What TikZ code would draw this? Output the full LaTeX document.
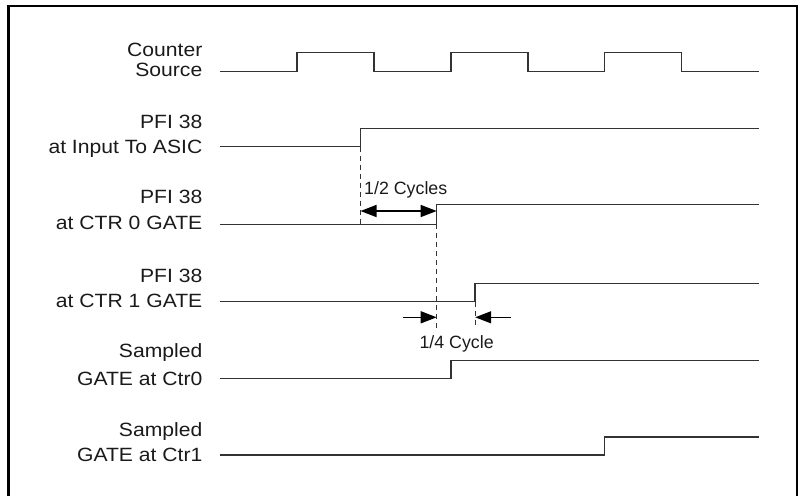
\documentclass[tikz,border=0pt]{standalone}
\usepackage{fontspec}
\setmainfont{Liberation Sans}
\newfontfamily\labfont{Liberation Sans}[FakeStretch=1.1]
\usetikzlibrary{arrows.meta}
\definecolor{sigcol}{HTML}{333333}
\definecolor{txtcol}{HTML}{1A1A1A}
\begin{document}
\begin{tikzpicture}[x=1pt,y=-1pt,
  sig/.style={line width=1.5pt, draw=sigcol, line join=miter},
  lab/.style={anchor=base east, inner sep=0pt, font=\labfont\fontsize{19.2}{20}\selectfont, text=txtcol},
  ann/.style={anchor=base west, inner sep=0pt, font=\fontsize{17.8}{20}\selectfont, text=txtcol},
  guide/.style={line width=1.1pt, dash pattern=on 5pt off 4pt, draw=sigcol},
  dimarrow/.style={line width=1.4pt, draw=black, arrows={-Triangle[length=16pt,width=12pt]}},
  dimboth/.style={line width=1.4pt, draw=black, arrows={Triangle[length=16pt,width=12pt]-Triangle[length=16pt,width=12pt]}}]
\useasboundingbox (0,0) rectangle (800,495);
% frame (bottom edge lies beyond the picture)
\draw[line width=2.6pt] (8.5,515) -- (8.5,6) -- (797,6) -- (797,515);

% labels
\node[lab] (cs1) at (202.5,56.7) {Counter};
\node[lab] (cs2) at (202.5,76.7) {Source};
\node[lab] (in1) at (202.5,128.3) {PFI 38};
\node[lab] (in2) at (202.5,153.3) {at Input To ASIC};
\node[lab] (g01) at (202.5,203.8) {PFI 38};
\node[lab] (g02) at (202.5,229.5) {at CTR 0 GATE};
\node[lab] (g11) at (202.5,282.3) {PFI 38};
\node[lab] (g12) at (202.5,307.3) {at CTR 1 GATE};
\node[lab] (s01) at (202.5,357.8) {Sampled};
\node[lab] (s02) at (202.5,385.0) {GATE at Ctr0};
\node[lab] (s11) at (202.5,436.7) {Sampled};
\node[lab] (s12) at (202.5,461.7) {GATE at Ctr1};

% key edges
\coordinate (inrise) at (360.5,146.5);
\coordinate (inrisetop) at (360.5,128.5);
\coordinate (g0rise) at (436.7,224.3);
\coordinate (g0risetop) at (436.7,204.7);
\coordinate (g1rise) at (475.2,301.5);
\coordinate (g1risetop) at (475.2,283.7);

% waveforms
\draw[sig] (219.5,71.5) -- (297,71.5) -- (297,52.5) -- (374,52.5) -- (374,71.5)
  -- (451,71.5) -- (451,52.5) -- (528,52.5) -- (528,71.5)
  -- (604.5,71.5) -- (604.5,52.5) -- (681.5,52.5) -- (681.5,71.5) -- (758.5,71.5);
\draw[sig] (219.5,146.5) -- (inrise) -- (inrisetop) -- (758.5,128.5);
\draw[sig] (219.5,224.3) -- (g0rise) -- (g0risetop) -- (758.5,204.7);
\draw[sig] (219.5,301.5) -- (g1rise) -- (g1risetop) -- (758.5,283.7);
\draw[sig] (219.5,378.5) -- (451,378.5) -- (451,360.5) -- (758.5,360.5);
\draw[sig] (219.5,455) -- (604.5,455) -- (604.5,437) -- (758.5,437);

% guides
\coordinate (inguide) at (360.5,224.3);
\coordinate (g0guide) at (436.7,328);
\coordinate (g1guide) at (475.2,328);
\draw[guide] (inrise) -- (inguide);
\draw[guide] (g0rise) -- (g0guide);
\draw[guide] (g1rise) -- (g1guide);

% half cycle dimension
\coordinate (ha) at (360.5,211);
\coordinate (hb) at (436.7,211);
\draw[dimboth] (ha) -- (hb);
\node[ann] (half) at (364,194.5) {1/2 Cycles};

% quarter cycle dimension
\coordinate (qa0) at (403.3,317.3);
\coordinate (qa1) at (436.7,317.3);
\coordinate (qb0) at (510.7,317.3);
\coordinate (qb1) at (475.2,317.3);
\draw[dimarrow] (qa0) -- (qa1);
\draw[dimarrow] (qb0) -- (qb1);
\node[ann] (quarter) at (419.3,348.5) {1/4 Cycle};
\end{tikzpicture}
\end{document}
